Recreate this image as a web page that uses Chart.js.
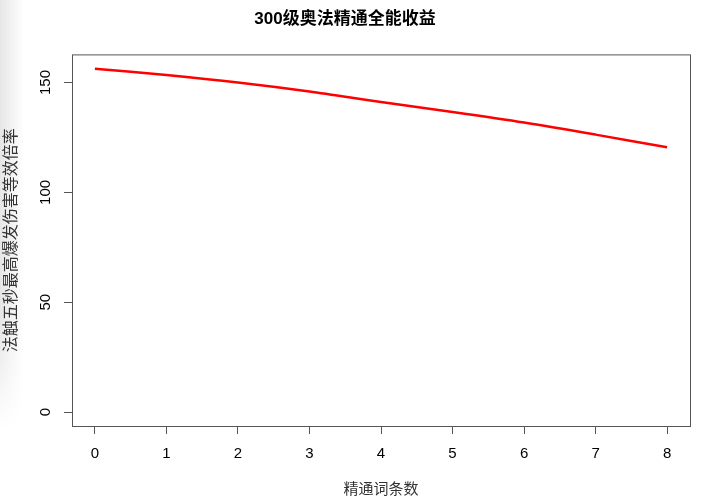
<!DOCTYPE html>
<html>
<head>
<meta charset="utf-8">
<script src="https://cdn.jsdelivr.net/npm/chart.js@4"></script>
<style>
  html, body { margin: 0; padding: 0; background: #fff; }
  #wrap { position: relative; width: 720px; height: 497px; }
  #shade { position: absolute; left: 0; top: 0; width: 24px; height: 430px;
    background: linear-gradient(to right, #e6e6e6, rgba(255,255,255,0));
    -webkit-mask-image: linear-gradient(to bottom, #000 75%, transparent);
    mask-image: linear-gradient(to bottom, #000 75%, transparent); }
  canvas { position: absolute; left: 0; top: 0; }
</style>
</head>
<body>
<div id="wrap">
  <div id="shade"></div>
  <canvas id="chart" width="720" height="497"></canvas>
</div>
<script>
// data
const masteryCounts = [0, 1, 2, 3, 4, 5, 6, 7, 8];
const burstRatio = [156.3, 153.4, 150.0, 145.9, 141.1, 136.6, 131.8, 126.3, 120.5];
const xTicks = [0, 1, 2, 3, 4, 5, 6, 7, 8];
const yTicks = [0, 50, 100, 150];

const titleText = '300级奥法精通全能收益';
const xTitle = '精通词条数';
const yTitle = '法触五秒最高爆发伤害等效倍率';

const tickFont = '15px "Liberation Sans", Arial, sans-serif';

// R-style box around plot area + rotated y tick labels
const rStyle = {
  id: 'rStyle',
  afterDraw(chart) {
    const ctx = chart.ctx;
    const a = chart.chartArea;
    ctx.save();
    ctx.strokeStyle = '#555';
    ctx.lineWidth = 1;
    ctx.strokeRect(a.left + 0.5, a.top + 0.5, a.right - a.left, a.bottom - a.top);
    const ys = chart.scales.y;
    ctx.fillStyle = '#000';
    ctx.font = tickFont;
    ctx.textAlign = 'center';
    ctx.textBaseline = 'middle';
    yTicks.forEach(v => {
      const py = ys.getPixelForValue(v);
      ctx.save();
      ctx.translate(a.left - 26, py);
      ctx.rotate(-Math.PI / 2);
      ctx.fillText(String(v), 0, 0);
      ctx.restore();
    });
    ctx.restore();
  }
};

new Chart(document.getElementById('chart'), {
  type: 'line',
  data: {
    datasets: [{
      data: masteryCounts.map((x, i) => ({ x: x, y: burstRatio[i] })),
      borderColor: '#ff0000',
      borderWidth: 2.5,
      pointRadius: 0,
      fill: false,
      tension: 0.3
    }]
  },
  options: {
    responsive: false,
    animation: false,
    layout: { padding: { left: 0, right: 30, top: 0, bottom: 0 } },
    plugins: {
      legend: { display: false },
      tooltip: { enabled: false },
      title: {
        display: true,
        text: titleText,
        color: '#000',
        font: { family: '"Liberation Sans", "Noto Sans CJK SC", sans-serif', size: 17, weight: 'bold' },
        padding: { top: 9, bottom: 25 }
      }
    },
    scales: {
      x: {
        type: 'linear',
        min: -0.32,
        max: 8.32,
        afterBuildTicks(scale) { scale.ticks = xTicks.map(v => ({ value: v })); },
        grid: { drawOnChartArea: false, drawTicks: true, tickLength: 8, color: '#555' },
        border: { display: false },
        ticks: { color: '#000', font: { family: '"Liberation Sans", Arial, sans-serif', size: 15 }, padding: 11, maxRotation: 0 },
        title: {
          display: true,
          text: xTitle,
          color: '#333',
          font: { family: '"Noto Sans CJK SC", sans-serif', size: 15 },
          padding: { top: 5, bottom: 0 }
        }
      },
      y: {
        min: -6.3,
        max: 162.8,
        afterBuildTicks(scale) { scale.ticks = yTicks.map(v => ({ value: v })); },
        afterFit(scale) { scale.width = 72; },
        grid: { drawOnChartArea: false, drawTicks: true, tickLength: 8, color: '#555' },
        border: { display: false },
        ticks: { display: true, color: 'rgba(0,0,0,0)', font: { size: 15 } },
        title: {
          display: true,
          text: yTitle,
          color: '#333',
          font: { family: '"Noto Sans CJK SC", sans-serif', size: 16 },
          padding: { top: 0, bottom: 0 }
        }
      }
    }
  },
  plugins: [rStyle]
});
</script>
</body>
</html>
